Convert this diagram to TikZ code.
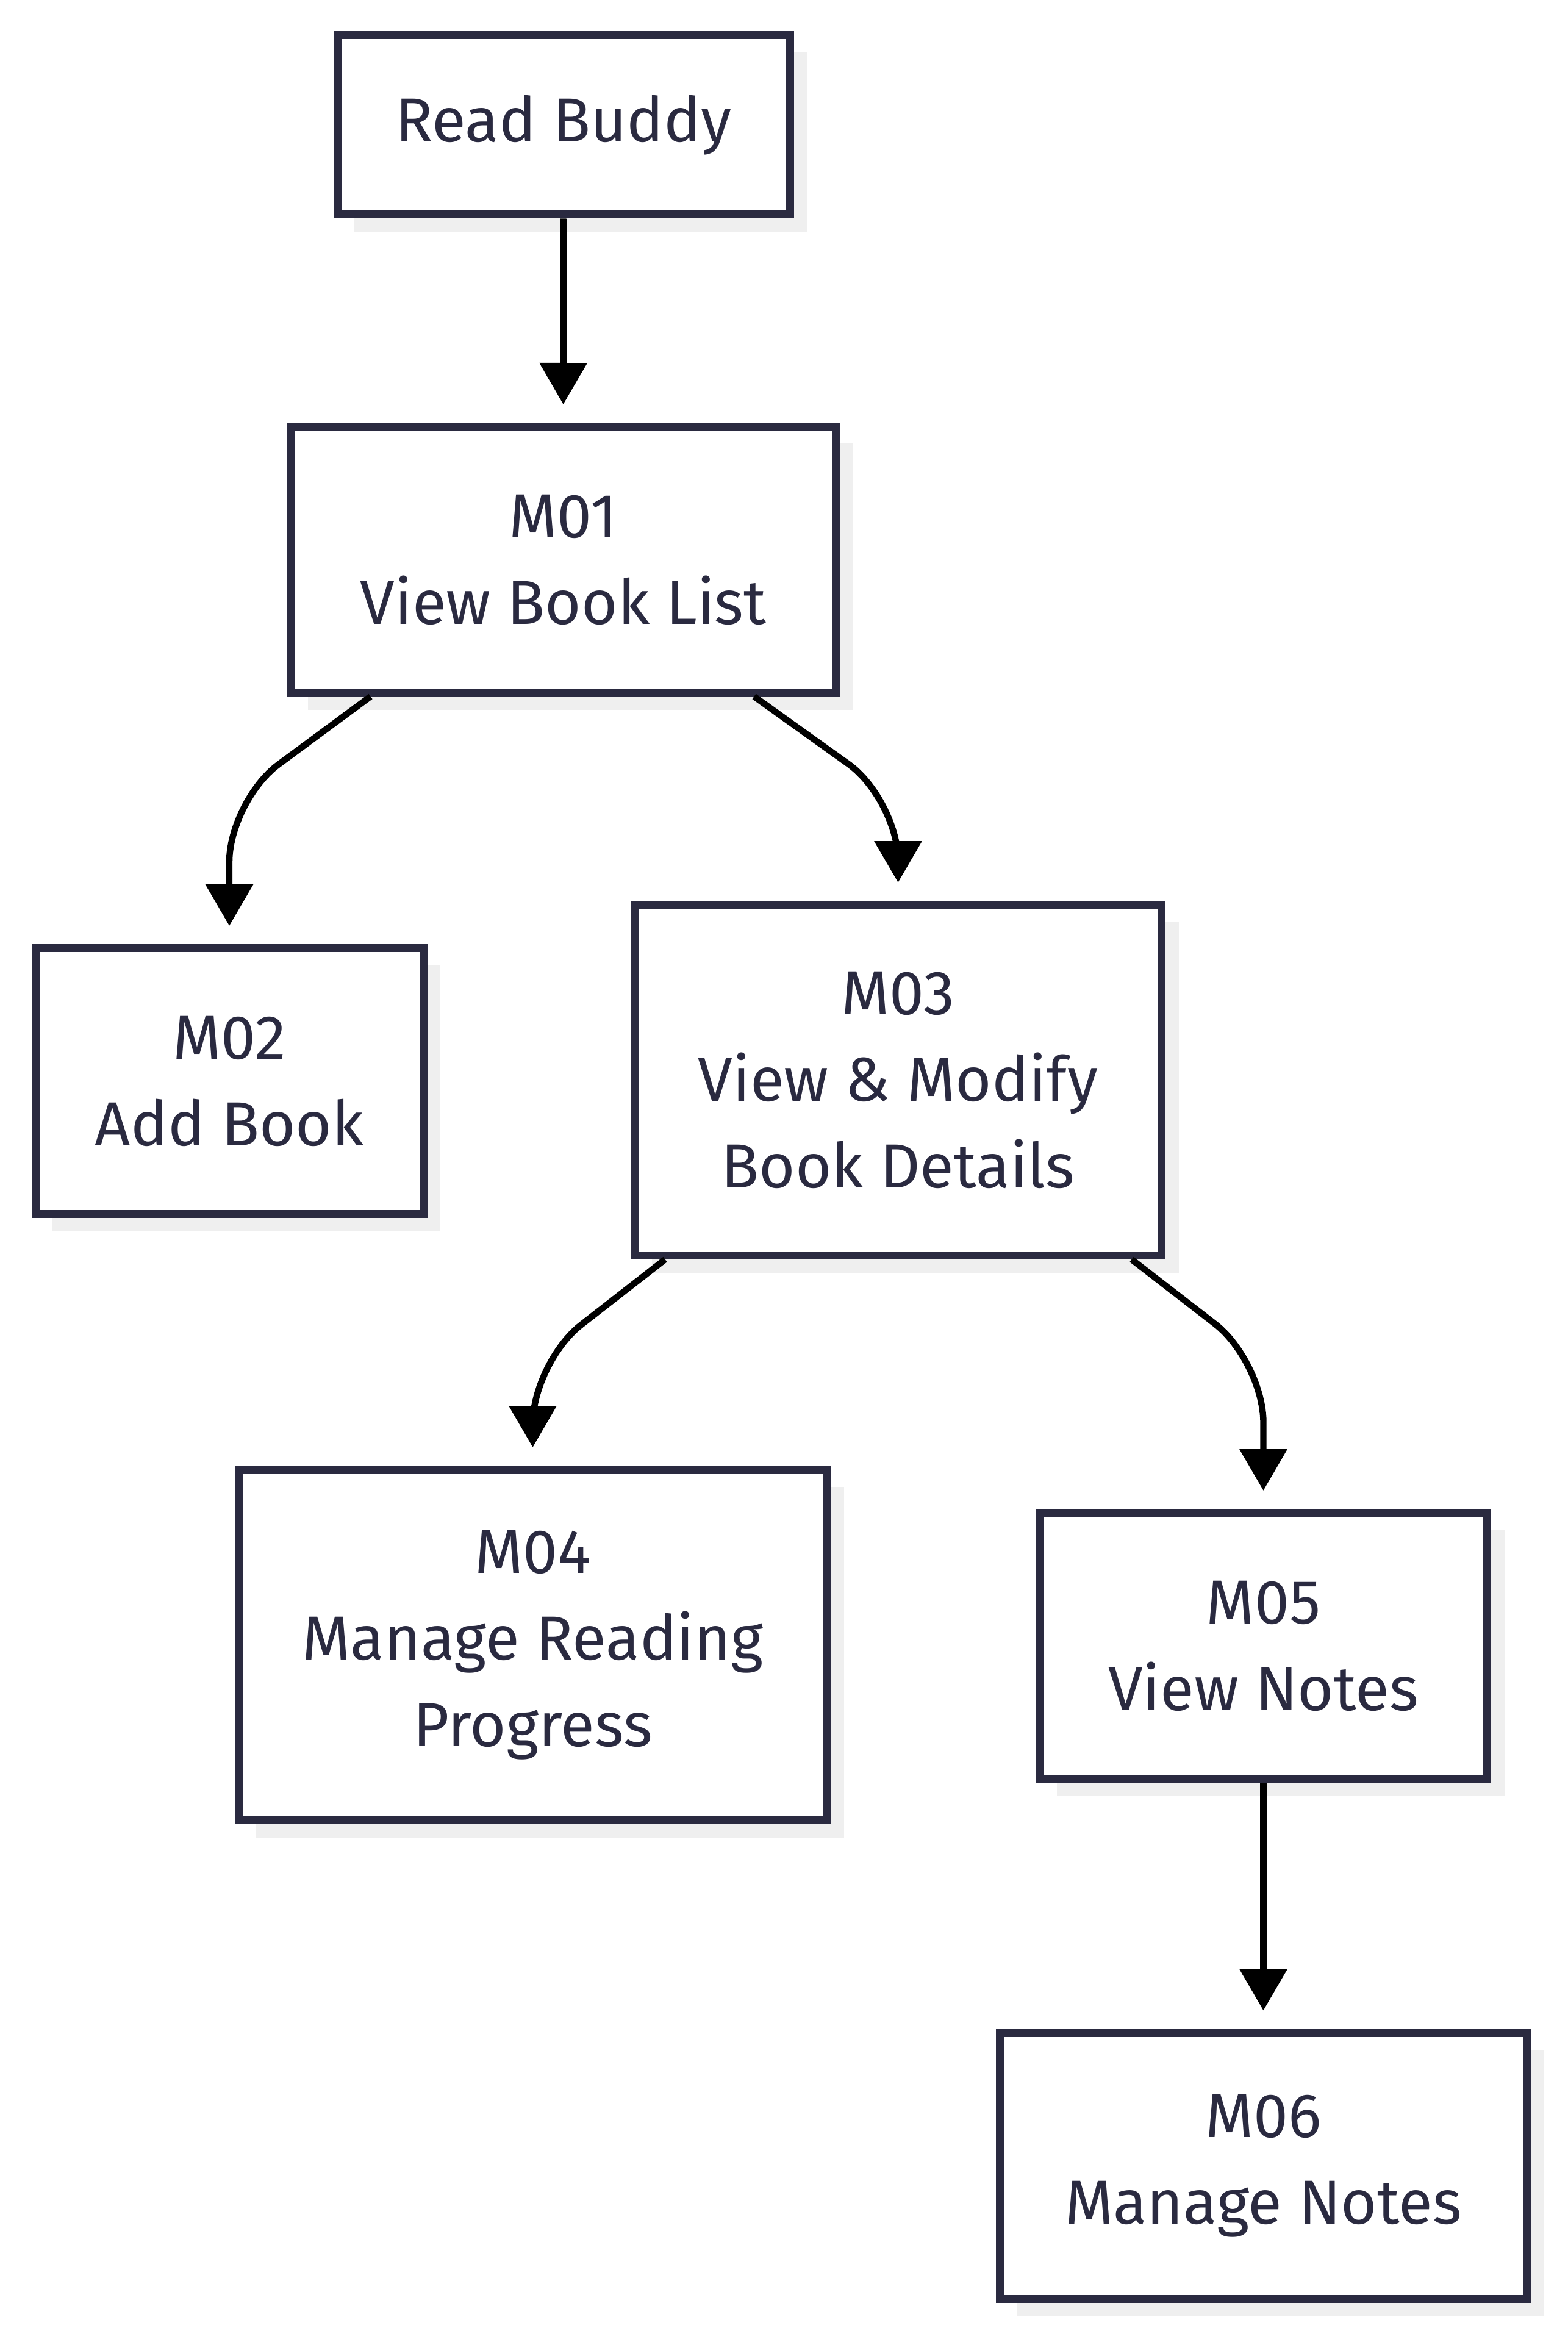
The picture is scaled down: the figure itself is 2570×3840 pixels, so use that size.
\documentclass[tikz,border=0pt]{standalone}
\usepackage{fontspec}
\setmainfont{Fira Sans}
\definecolor{inkblue}{RGB}{42, 42, 64}
\definecolor{shadegray}{RGB}{239, 239, 239}
\usepackage{tikz}
\usetikzlibrary{arrows.meta, positioning, calc, shadows}

\begin{document}
\begin{tikzpicture}[
  x=0.25pt, y=-0.25pt,
  mbox/.style={draw=inkblue, line width=3.25pt, fill=white, align=center, text=inkblue,
    font=\fontsize{25.5}{35.5}\selectfont, inner sep=0pt,
    drop shadow={shadow xshift=7pt, shadow yshift=-7pt, fill=shadegray, opacity=1}},
  flow/.style={line width=2.6pt, rounded corners=25pt, shorten >=7.5pt,
    -{Triangle[length=17pt, width=19pt]}}
]
  \useasboundingbox (0,0) rectangle (2570,3840);

  \node[mbox, minimum width=185.5pt, minimum height=73.5pt] (rb) at (924,205) {Read Buddy};
  \node[mbox, minimum width=223.5pt, minimum height=109pt] (m01) at (923.5,917.5) {M01\\View Book List};
  \node[mbox, minimum width=159pt, minimum height=109pt] (m02) at (376,1772.5) {M02\\Add Book};
  \node[mbox, minimum width=216pt, minimum height=143.75pt] (m03) at (1472.5,1771) {M03\\View \& Modify\\Book Details};
  \node[mbox, minimum width=241pt, minimum height=143.75pt] (m04) at (873.5,2697) {M04\\Manage Reading\\Progress};
  \node[mbox, minimum width=183.5pt, minimum height=109pt] (m05) at (2071.5,2698.5) {M05\\View Notes};
  \node[mbox, minimum width=216pt, minimum height=109pt] (m06) at (2071.5,3551) {M06\\Manage Notes};

  % bends of the slanted connectors
  \coordinate (b2) at (376,1313);
  \coordinate (b3) at (1472.5,1311);
  \coordinate (b4) at (873.5,2234);
  \coordinate (b5) at (2071.5,2232);

  \draw[flow] (rb.south) -- (m01.north);
  \draw[flow] ($(m01.south)+(-316,0)$) -- (b2) -- (m02.north);
  \draw[flow] ($(m01.south)+(313,0)$) -- (b3) -- (m03.north);
  \draw[flow] ($(m03.south)+(-382,0)$) -- (b4) -- (m04.north);
  \draw[flow] ($(m03.south)+(383,0)$) -- (b5) -- (m05.north);
  \draw[flow] (m05.south) -- (m06.north);
\end{tikzpicture}
\end{document}
